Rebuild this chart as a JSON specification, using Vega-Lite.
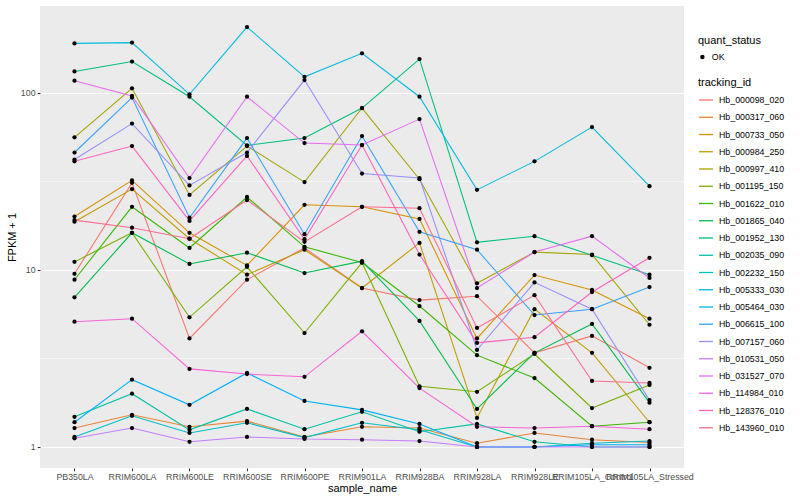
{
"$schema": "https://vega.github.io/schema/vega-lite/v6.json",
"width": 644, "height": 462,
"autosize": "none",
"padding": {"left": 40, "top": 6, "right": 116, "bottom": 32},
"background": "white",
"config": {
  "view": {"fill": "#EBEBEB", "stroke": null},
  "font": "Liberation Sans",
  "axis": {"domain": false, "gridColor": "#FFFFFF", "tickColor": "#333333", "tickSize": 2.75, "tickWidth": 1.07, "labelColor": "#4D4D4D", "labelFontSize": 8.8, "labelPadding": 2.2, "titleFontSize": 11, "titleFontWeight": "normal", "titleColor": "#000000", "labelOverlap": false, "labelBound": false},
  "legend": {"titleFontSize": 11, "titleFontWeight": "normal", "titleColor": "#000000", "labelFontSize": 8.8, "labelColor": "#000000", "padding": 0, "labelOffset": 5}
},
"data": {"values": [
{"s":"PB350LA","t":"Hb_000098_020","v":9.5,"q":"OK"},
{"s":"RRIM600LA","t":"Hb_000098_020","v":31,"q":"OK"},
{"s":"RRIM600LE","t":"Hb_000098_020","v":4.1,"q":"OK"},
{"s":"RRIM600SE","t":"Hb_000098_020","v":8.8,"q":"OK"},
{"s":"RRIM600PE","t":"Hb_000098_020","v":13.3,"q":"OK"},
{"s":"RRIM901LA","t":"Hb_000098_020","v":7.9,"q":"OK"},
{"s":"RRIM928BA","t":"Hb_000098_020","v":6.75,"q":"OK"},
{"s":"RRIM928LA","t":"Hb_000098_020","v":7.1,"q":"OK"},
{"s":"RRIM928LE","t":"Hb_000098_020","v":3.4,"q":"OK"},
{"s":"RRIM105LA_Control","t":"Hb_000098_020","v":4.24,"q":"OK"},
{"s":"RRIM105LA_Stressed","t":"Hb_000098_020","v":2.8,"q":"OK"},
{"s":"PB350LA","t":"Hb_000317_060","v":1.28,"q":"OK"},
{"s":"RRIM600LA","t":"Hb_000317_060","v":1.52,"q":"OK"},
{"s":"RRIM600LE","t":"Hb_000317_060","v":1.3,"q":"OK"},
{"s":"RRIM600SE","t":"Hb_000317_060","v":1.4,"q":"OK"},
{"s":"RRIM600PE","t":"Hb_000317_060","v":1.14,"q":"OK"},
{"s":"RRIM901LA","t":"Hb_000317_060","v":1.3,"q":"OK"},
{"s":"RRIM928BA","t":"Hb_000317_060","v":1.28,"q":"OK"},
{"s":"RRIM928LA","t":"Hb_000317_060","v":1.05,"q":"OK"},
{"s":"RRIM928LE","t":"Hb_000317_060","v":1.2,"q":"OK"},
{"s":"RRIM105LA_Control","t":"Hb_000317_060","v":1.1,"q":"OK"},
{"s":"RRIM105LA_Stressed","t":"Hb_000317_060","v":1.06,"q":"OK"},
{"s":"PB350LA","t":"Hb_000733_050","v":20,"q":"OK"},
{"s":"RRIM600LA","t":"Hb_000733_050","v":32,"q":"OK"},
{"s":"RRIM600LE","t":"Hb_000733_050","v":16.2,"q":"OK"},
{"s":"RRIM600SE","t":"Hb_000733_050","v":10.6,"q":"OK"},
{"s":"RRIM600PE","t":"Hb_000733_050","v":23.3,"q":"OK"},
{"s":"RRIM901LA","t":"Hb_000733_050","v":22.7,"q":"OK"},
{"s":"RRIM928BA","t":"Hb_000733_050","v":19.4,"q":"OK"},
{"s":"RRIM928LA","t":"Hb_000733_050","v":4.1,"q":"OK"},
{"s":"RRIM928LE","t":"Hb_000733_050","v":9.35,"q":"OK"},
{"s":"RRIM105LA_Control","t":"Hb_000733_050","v":7.7,"q":"OK"},
{"s":"RRIM105LA_Stressed","t":"Hb_000733_050","v":5.3,"q":"OK"},
{"s":"PB350LA","t":"Hb_000984_250","v":18.7,"q":"OK"},
{"s":"RRIM600LA","t":"Hb_000984_250","v":28.6,"q":"OK"},
{"s":"RRIM600LE","t":"Hb_000984_250","v":15,"q":"OK"},
{"s":"RRIM600SE","t":"Hb_000984_250","v":9.4,"q":"OK"},
{"s":"RRIM600PE","t":"Hb_000984_250","v":13,"q":"OK"},
{"s":"RRIM901LA","t":"Hb_000984_250","v":7.9,"q":"OK"},
{"s":"RRIM928BA","t":"Hb_000984_250","v":14.2,"q":"OK"},
{"s":"RRIM928LA","t":"Hb_000984_250","v":1.46,"q":"OK"},
{"s":"RRIM928LE","t":"Hb_000984_250","v":6.0,"q":"OK"},
{"s":"RRIM105LA_Control","t":"Hb_000984_250","v":3.4,"q":"OK"},
{"s":"RRIM105LA_Stressed","t":"Hb_000984_250","v":1.38,"q":"OK"},
{"s":"PB350LA","t":"Hb_000997_410","v":56,"q":"OK"},
{"s":"RRIM600LA","t":"Hb_000997_410","v":106,"q":"OK"},
{"s":"RRIM600LE","t":"Hb_000997_410","v":26.5,"q":"OK"},
{"s":"RRIM600SE","t":"Hb_000997_410","v":50,"q":"OK"},
{"s":"RRIM600PE","t":"Hb_000997_410","v":31.3,"q":"OK"},
{"s":"RRIM901LA","t":"Hb_000997_410","v":82,"q":"OK"},
{"s":"RRIM928BA","t":"Hb_000997_410","v":32.5,"q":"OK"},
{"s":"RRIM928LA","t":"Hb_000997_410","v":8.4,"q":"OK"},
{"s":"RRIM928LE","t":"Hb_000997_410","v":12.6,"q":"OK"},
{"s":"RRIM105LA_Control","t":"Hb_000997_410","v":12.2,"q":"OK"},
{"s":"RRIM105LA_Stressed","t":"Hb_000997_410","v":4.9,"q":"OK"},
{"s":"PB350LA","t":"Hb_001195_150","v":11.1,"q":"OK"},
{"s":"RRIM600LA","t":"Hb_001195_150","v":16.2,"q":"OK"},
{"s":"RRIM600LE","t":"Hb_001195_150","v":5.4,"q":"OK"},
{"s":"RRIM600SE","t":"Hb_001195_150","v":10.4,"q":"OK"},
{"s":"RRIM600PE","t":"Hb_001195_150","v":4.4,"q":"OK"},
{"s":"RRIM901LA","t":"Hb_001195_150","v":11,"q":"OK"},
{"s":"RRIM928BA","t":"Hb_001195_150","v":2.2,"q":"OK"},
{"s":"RRIM928LA","t":"Hb_001195_150","v":2.05,"q":"OK"},
{"s":"RRIM928LE","t":"Hb_001195_150","v":3.35,"q":"OK"},
{"s":"RRIM105LA_Control","t":"Hb_001195_150","v":1.66,"q":"OK"},
{"s":"RRIM105LA_Stressed","t":"Hb_001195_150","v":2.24,"q":"OK"},
{"s":"PB350LA","t":"Hb_001622_010","v":8.8,"q":"OK"},
{"s":"RRIM600LA","t":"Hb_001622_010","v":22.7,"q":"OK"},
{"s":"RRIM600LE","t":"Hb_001622_010","v":13.3,"q":"OK"},
{"s":"RRIM600SE","t":"Hb_001622_010","v":25.8,"q":"OK"},
{"s":"RRIM600PE","t":"Hb_001622_010","v":13.5,"q":"OK"},
{"s":"RRIM901LA","t":"Hb_001622_010","v":11,"q":"OK"},
{"s":"RRIM928BA","t":"Hb_001622_010","v":6.25,"q":"OK"},
{"s":"RRIM928LA","t":"Hb_001622_010","v":3.3,"q":"OK"},
{"s":"RRIM928LE","t":"Hb_001622_010","v":2.45,"q":"OK"},
{"s":"RRIM105LA_Control","t":"Hb_001622_010","v":1.31,"q":"OK"},
{"s":"RRIM105LA_Stressed","t":"Hb_001622_010","v":1.38,"q":"OK"},
{"s":"PB350LA","t":"Hb_001865_040","v":7.0,"q":"OK"},
{"s":"RRIM600LA","t":"Hb_001865_040","v":16.2,"q":"OK"},
{"s":"RRIM600LE","t":"Hb_001865_040","v":10.8,"q":"OK"},
{"s":"RRIM600SE","t":"Hb_001865_040","v":12.5,"q":"OK"},
{"s":"RRIM600PE","t":"Hb_001865_040","v":9.6,"q":"OK"},
{"s":"RRIM901LA","t":"Hb_001865_040","v":11.2,"q":"OK"},
{"s":"RRIM928BA","t":"Hb_001865_040","v":5.15,"q":"OK"},
{"s":"RRIM928LA","t":"Hb_001865_040","v":1.64,"q":"OK"},
{"s":"RRIM928LE","t":"Hb_001865_040","v":3.4,"q":"OK"},
{"s":"RRIM105LA_Control","t":"Hb_001865_040","v":4.95,"q":"OK"},
{"s":"RRIM105LA_Stressed","t":"Hb_001865_040","v":1.78,"q":"OK"},
{"s":"PB350LA","t":"Hb_001952_130","v":132,"q":"OK"},
{"s":"RRIM600LA","t":"Hb_001952_130","v":150,"q":"OK"},
{"s":"RRIM600LE","t":"Hb_001952_130","v":95,"q":"OK"},
{"s":"RRIM600SE","t":"Hb_001952_130","v":50.5,"q":"OK"},
{"s":"RRIM600PE","t":"Hb_001952_130","v":55.5,"q":"OK"},
{"s":"RRIM901LA","t":"Hb_001952_130","v":82,"q":"OK"},
{"s":"RRIM928BA","t":"Hb_001952_130","v":155,"q":"OK"},
{"s":"RRIM928LA","t":"Hb_001952_130","v":14.3,"q":"OK"},
{"s":"RRIM928LE","t":"Hb_001952_130","v":15.5,"q":"OK"},
{"s":"RRIM105LA_Control","t":"Hb_001952_130","v":12.1,"q":"OK"},
{"s":"RRIM105LA_Stressed","t":"Hb_001952_130","v":9.4,"q":"OK"},
{"s":"PB350LA","t":"Hb_002035_090","v":1.48,"q":"OK"},
{"s":"RRIM600LA","t":"Hb_002035_090","v":2.0,"q":"OK"},
{"s":"RRIM600LE","t":"Hb_002035_090","v":1.25,"q":"OK"},
{"s":"RRIM600SE","t":"Hb_002035_090","v":1.64,"q":"OK"},
{"s":"RRIM600PE","t":"Hb_002035_090","v":1.26,"q":"OK"},
{"s":"RRIM901LA","t":"Hb_002035_090","v":1.58,"q":"OK"},
{"s":"RRIM928BA","t":"Hb_002035_090","v":1.22,"q":"OK"},
{"s":"RRIM928LA","t":"Hb_002035_090","v":1.35,"q":"OK"},
{"s":"RRIM928LE","t":"Hb_002035_090","v":1.07,"q":"OK"},
{"s":"RRIM105LA_Control","t":"Hb_002035_090","v":1.0,"q":"OK"},
{"s":"RRIM105LA_Stressed","t":"Hb_002035_090","v":1.0,"q":"OK"},
{"s":"PB350LA","t":"Hb_002232_150","v":1.14,"q":"OK"},
{"s":"RRIM600LA","t":"Hb_002232_150","v":1.5,"q":"OK"},
{"s":"RRIM600LE","t":"Hb_002232_150","v":1.2,"q":"OK"},
{"s":"RRIM600SE","t":"Hb_002232_150","v":1.37,"q":"OK"},
{"s":"RRIM600PE","t":"Hb_002232_150","v":1.13,"q":"OK"},
{"s":"RRIM901LA","t":"Hb_002232_150","v":1.37,"q":"OK"},
{"s":"RRIM928BA","t":"Hb_002232_150","v":1.25,"q":"OK"},
{"s":"RRIM928LA","t":"Hb_002232_150","v":1.0,"q":"OK"},
{"s":"RRIM928LE","t":"Hb_002232_150","v":1.0,"q":"OK"},
{"s":"RRIM105LA_Control","t":"Hb_002232_150","v":1.05,"q":"OK"},
{"s":"RRIM105LA_Stressed","t":"Hb_002232_150","v":1.08,"q":"OK"},
{"s":"PB350LA","t":"Hb_005333_030","v":190,"q":"OK"},
{"s":"RRIM600LA","t":"Hb_005333_030","v":192,"q":"OK"},
{"s":"RRIM600LE","t":"Hb_005333_030","v":98,"q":"OK"},
{"s":"RRIM600SE","t":"Hb_005333_030","v":235,"q":"OK"},
{"s":"RRIM600PE","t":"Hb_005333_030","v":123,"q":"OK"},
{"s":"RRIM901LA","t":"Hb_005333_030","v":167,"q":"OK"},
{"s":"RRIM928BA","t":"Hb_005333_030","v":95,"q":"OK"},
{"s":"RRIM928LA","t":"Hb_005333_030","v":28.3,"q":"OK"},
{"s":"RRIM928LE","t":"Hb_005333_030","v":41,"q":"OK"},
{"s":"RRIM105LA_Control","t":"Hb_005333_030","v":64,"q":"OK"},
{"s":"RRIM105LA_Stressed","t":"Hb_005333_030","v":29.7,"q":"OK"},
{"s":"PB350LA","t":"Hb_005464_030","v":1.38,"q":"OK"},
{"s":"RRIM600LA","t":"Hb_005464_030","v":2.4,"q":"OK"},
{"s":"RRIM600LE","t":"Hb_005464_030","v":1.73,"q":"OK"},
{"s":"RRIM600SE","t":"Hb_005464_030","v":2.62,"q":"OK"},
{"s":"RRIM600PE","t":"Hb_005464_030","v":1.82,"q":"OK"},
{"s":"RRIM901LA","t":"Hb_005464_030","v":1.62,"q":"OK"},
{"s":"RRIM928BA","t":"Hb_005464_030","v":1.35,"q":"OK"},
{"s":"RRIM928LA","t":"Hb_005464_030","v":1.0,"q":"OK"},
{"s":"RRIM928LE","t":"Hb_005464_030","v":1.0,"q":"OK"},
{"s":"RRIM105LA_Control","t":"Hb_005464_030","v":1.03,"q":"OK"},
{"s":"RRIM105LA_Stressed","t":"Hb_005464_030","v":1.03,"q":"OK"},
{"s":"PB350LA","t":"Hb_006615_100","v":46,"q":"OK"},
{"s":"RRIM600LA","t":"Hb_006615_100","v":94,"q":"OK"},
{"s":"RRIM600LE","t":"Hb_006615_100","v":19.7,"q":"OK"},
{"s":"RRIM600SE","t":"Hb_006615_100","v":55.5,"q":"OK"},
{"s":"RRIM600PE","t":"Hb_006615_100","v":15.9,"q":"OK"},
{"s":"RRIM901LA","t":"Hb_006615_100","v":57,"q":"OK"},
{"s":"RRIM928BA","t":"Hb_006615_100","v":16.4,"q":"OK"},
{"s":"RRIM928LA","t":"Hb_006615_100","v":13,"q":"OK"},
{"s":"RRIM928LE","t":"Hb_006615_100","v":5.56,"q":"OK"},
{"s":"RRIM105LA_Control","t":"Hb_006615_100","v":6.0,"q":"OK"},
{"s":"RRIM105LA_Stressed","t":"Hb_006615_100","v":8.0,"q":"OK"},
{"s":"PB350LA","t":"Hb_007157_060","v":42,"q":"OK"},
{"s":"RRIM600LA","t":"Hb_007157_060","v":67,"q":"OK"},
{"s":"RRIM600LE","t":"Hb_007157_060","v":30,"q":"OK"},
{"s":"RRIM600SE","t":"Hb_007157_060","v":46,"q":"OK"},
{"s":"RRIM600PE","t":"Hb_007157_060","v":118,"q":"OK"},
{"s":"RRIM901LA","t":"Hb_007157_060","v":35,"q":"OK"},
{"s":"RRIM928BA","t":"Hb_007157_060","v":33,"q":"OK"},
{"s":"RRIM928LA","t":"Hb_007157_060","v":3.53,"q":"OK"},
{"s":"RRIM928LE","t":"Hb_007157_060","v":8.5,"q":"OK"},
{"s":"RRIM105LA_Control","t":"Hb_007157_060","v":6.0,"q":"OK"},
{"s":"RRIM105LA_Stressed","t":"Hb_007157_060","v":1.84,"q":"OK"},
{"s":"PB350LA","t":"Hb_010531_050","v":1.12,"q":"OK"},
{"s":"RRIM600LA","t":"Hb_010531_050","v":1.28,"q":"OK"},
{"s":"RRIM600LE","t":"Hb_010531_050","v":1.07,"q":"OK"},
{"s":"RRIM600SE","t":"Hb_010531_050","v":1.14,"q":"OK"},
{"s":"RRIM600PE","t":"Hb_010531_050","v":1.11,"q":"OK"},
{"s":"RRIM901LA","t":"Hb_010531_050","v":1.1,"q":"OK"},
{"s":"RRIM928BA","t":"Hb_010531_050","v":1.08,"q":"OK"},
{"s":"RRIM928LA","t":"Hb_010531_050","v":1.0,"q":"OK"},
{"s":"RRIM928LE","t":"Hb_010531_050","v":1.0,"q":"OK"},
{"s":"RRIM105LA_Control","t":"Hb_010531_050","v":1.0,"q":"OK"},
{"s":"RRIM105LA_Stressed","t":"Hb_010531_050","v":1.0,"q":"OK"},
{"s":"PB350LA","t":"Hb_031527_070","v":117,"q":"OK"},
{"s":"RRIM600LA","t":"Hb_031527_070","v":96,"q":"OK"},
{"s":"RRIM600LE","t":"Hb_031527_070","v":33,"q":"OK"},
{"s":"RRIM600SE","t":"Hb_031527_070","v":95,"q":"OK"},
{"s":"RRIM600PE","t":"Hb_031527_070","v":52,"q":"OK"},
{"s":"RRIM901LA","t":"Hb_031527_070","v":50.7,"q":"OK"},
{"s":"RRIM928BA","t":"Hb_031527_070","v":71,"q":"OK"},
{"s":"RRIM928LA","t":"Hb_031527_070","v":7.9,"q":"OK"},
{"s":"RRIM928LE","t":"Hb_031527_070","v":12.6,"q":"OK"},
{"s":"RRIM105LA_Control","t":"Hb_031527_070","v":15.5,"q":"OK"},
{"s":"RRIM105LA_Stressed","t":"Hb_031527_070","v":9.0,"q":"OK"},
{"s":"PB350LA","t":"Hb_114984_010","v":5.1,"q":"OK"},
{"s":"RRIM600LA","t":"Hb_114984_010","v":5.3,"q":"OK"},
{"s":"RRIM600LE","t":"Hb_114984_010","v":2.76,"q":"OK"},
{"s":"RRIM600SE","t":"Hb_114984_010","v":2.58,"q":"OK"},
{"s":"RRIM600PE","t":"Hb_114984_010","v":2.49,"q":"OK"},
{"s":"RRIM901LA","t":"Hb_114984_010","v":4.5,"q":"OK"},
{"s":"RRIM928BA","t":"Hb_114984_010","v":2.15,"q":"OK"},
{"s":"RRIM928LA","t":"Hb_114984_010","v":1.3,"q":"OK"},
{"s":"RRIM928LE","t":"Hb_114984_010","v":1.28,"q":"OK"},
{"s":"RRIM105LA_Control","t":"Hb_114984_010","v":1.31,"q":"OK"},
{"s":"RRIM105LA_Stressed","t":"Hb_114984_010","v":1.26,"q":"OK"},
{"s":"PB350LA","t":"Hb_128376_010","v":41,"q":"OK"},
{"s":"RRIM600LA","t":"Hb_128376_010","v":50,"q":"OK"},
{"s":"RRIM600LE","t":"Hb_128376_010","v":18.9,"q":"OK"},
{"s":"RRIM600SE","t":"Hb_128376_010","v":44,"q":"OK"},
{"s":"RRIM600PE","t":"Hb_128376_010","v":14.9,"q":"OK"},
{"s":"RRIM901LA","t":"Hb_128376_010","v":50.7,"q":"OK"},
{"s":"RRIM928BA","t":"Hb_128376_010","v":12.2,"q":"OK"},
{"s":"RRIM928LA","t":"Hb_128376_010","v":3.87,"q":"OK"},
{"s":"RRIM928LE","t":"Hb_128376_010","v":4.17,"q":"OK"},
{"s":"RRIM105LA_Control","t":"Hb_128376_010","v":7.5,"q":"OK"},
{"s":"RRIM105LA_Stressed","t":"Hb_128376_010","v":11.7,"q":"OK"},
{"s":"PB350LA","t":"Hb_143960_010","v":19.1,"q":"OK"},
{"s":"RRIM600LA","t":"Hb_143960_010","v":17.3,"q":"OK"},
{"s":"RRIM600LE","t":"Hb_143960_010","v":15,"q":"OK"},
{"s":"RRIM600SE","t":"Hb_143960_010","v":24.8,"q":"OK"},
{"s":"RRIM600PE","t":"Hb_143960_010","v":14.4,"q":"OK"},
{"s":"RRIM901LA","t":"Hb_143960_010","v":22.7,"q":"OK"},
{"s":"RRIM928BA","t":"Hb_143960_010","v":22.3,"q":"OK"},
{"s":"RRIM928LA","t":"Hb_143960_010","v":4.7,"q":"OK"},
{"s":"RRIM928LE","t":"Hb_143960_010","v":7.2,"q":"OK"},
{"s":"RRIM105LA_Control","t":"Hb_143960_010","v":2.36,"q":"OK"},
{"s":"RRIM105LA_Stressed","t":"Hb_143960_010","v":2.3,"q":"OK"}
]},
"encoding": {
  "x": {"field": "s", "type": "nominal", "title": "sample_name",
        "sort": ["PB350LA","RRIM600LA","RRIM600LE","RRIM600SE","RRIM600PE","RRIM901LA","RRIM928BA","RRIM928LA","RRIM928LE","RRIM105LA_Control","RRIM105LA_Stressed"],
        "scale": {"type": "point", "padding": 0.6},
        "axis": {"labelAngle": 0, "gridWidth": 1.07, "titlePadding": 1}},
  "y": {"field": "v", "type": "quantitative", "title": "FPKM + 1",
        "scale": {"type": "log", "domain": [0.761, 309], "nice": false, "zero": false},
        "axis": {"values": [1, 3.1623, 10, 31.623, 100],
                 "labelExpr": "(datum.value == 1 || datum.value == 10 || datum.value == 100) ? ('' + datum.value) : ''",
                 "gridWidth": {"condition": {"test": "datum.value == 1 || datum.value == 10 || datum.value == 100", "value": 1.07}, "value": 0.53},
                 "tickOpacity": {"condition": {"test": "datum.value == 1 || datum.value == 10 || datum.value == 100", "value": 1}, "value": 0},
                 "titlePadding": 3}}
},
"layer": [
  {"mark": {"type": "line", "strokeWidth": 1.07},
   "encoding": {
     "color": {"field": "t", "type": "nominal", "title": "tracking_id",
       "scale": {"domain": ["Hb_000098_020","Hb_000317_060","Hb_000733_050","Hb_000984_250","Hb_000997_410","Hb_001195_150","Hb_001622_010","Hb_001865_040","Hb_001952_130","Hb_002035_090","Hb_002232_150","Hb_005333_030","Hb_005464_030","Hb_006615_100","Hb_007157_060","Hb_010531_050","Hb_031527_070","Hb_114984_010","Hb_128376_010","Hb_143960_010"],
                 "range": ["#F8766D","#EA8331","#D89000","#C09B00","#A3A500","#7CAE00","#39B600","#00BB4E","#00BF7D","#00C1A3","#00BFC4","#00BAE0","#00B0F6","#35A2FF","#9590FF","#C77CFF","#E76BF3","#FA62DB","#FF62BC","#FF6C91"]},
       "legend": {"orient": "none", "legendX": 658, "legendY": 71, "symbolType": "stroke", "symbolSize": 196, "symbolStrokeWidth": 1.3, "rowPadding": 4.25, "titlePadding": 4}}
   }},
  {"mark": {"type": "point", "filled": true, "color": "#000000", "size": 18, "opacity": 1},
   "encoding": {
     "shape": {"field": "q", "type": "nominal", "title": "quant_status",
       "scale": {"range": ["circle"]},
       "legend": {"orient": "none", "legendX": 658, "legendY": 28.5, "symbolSize": 20, "symbolFillColor": "#000000", "symbolStrokeColor": "#000000", "titlePadding": 7}}
   }}
]
}
